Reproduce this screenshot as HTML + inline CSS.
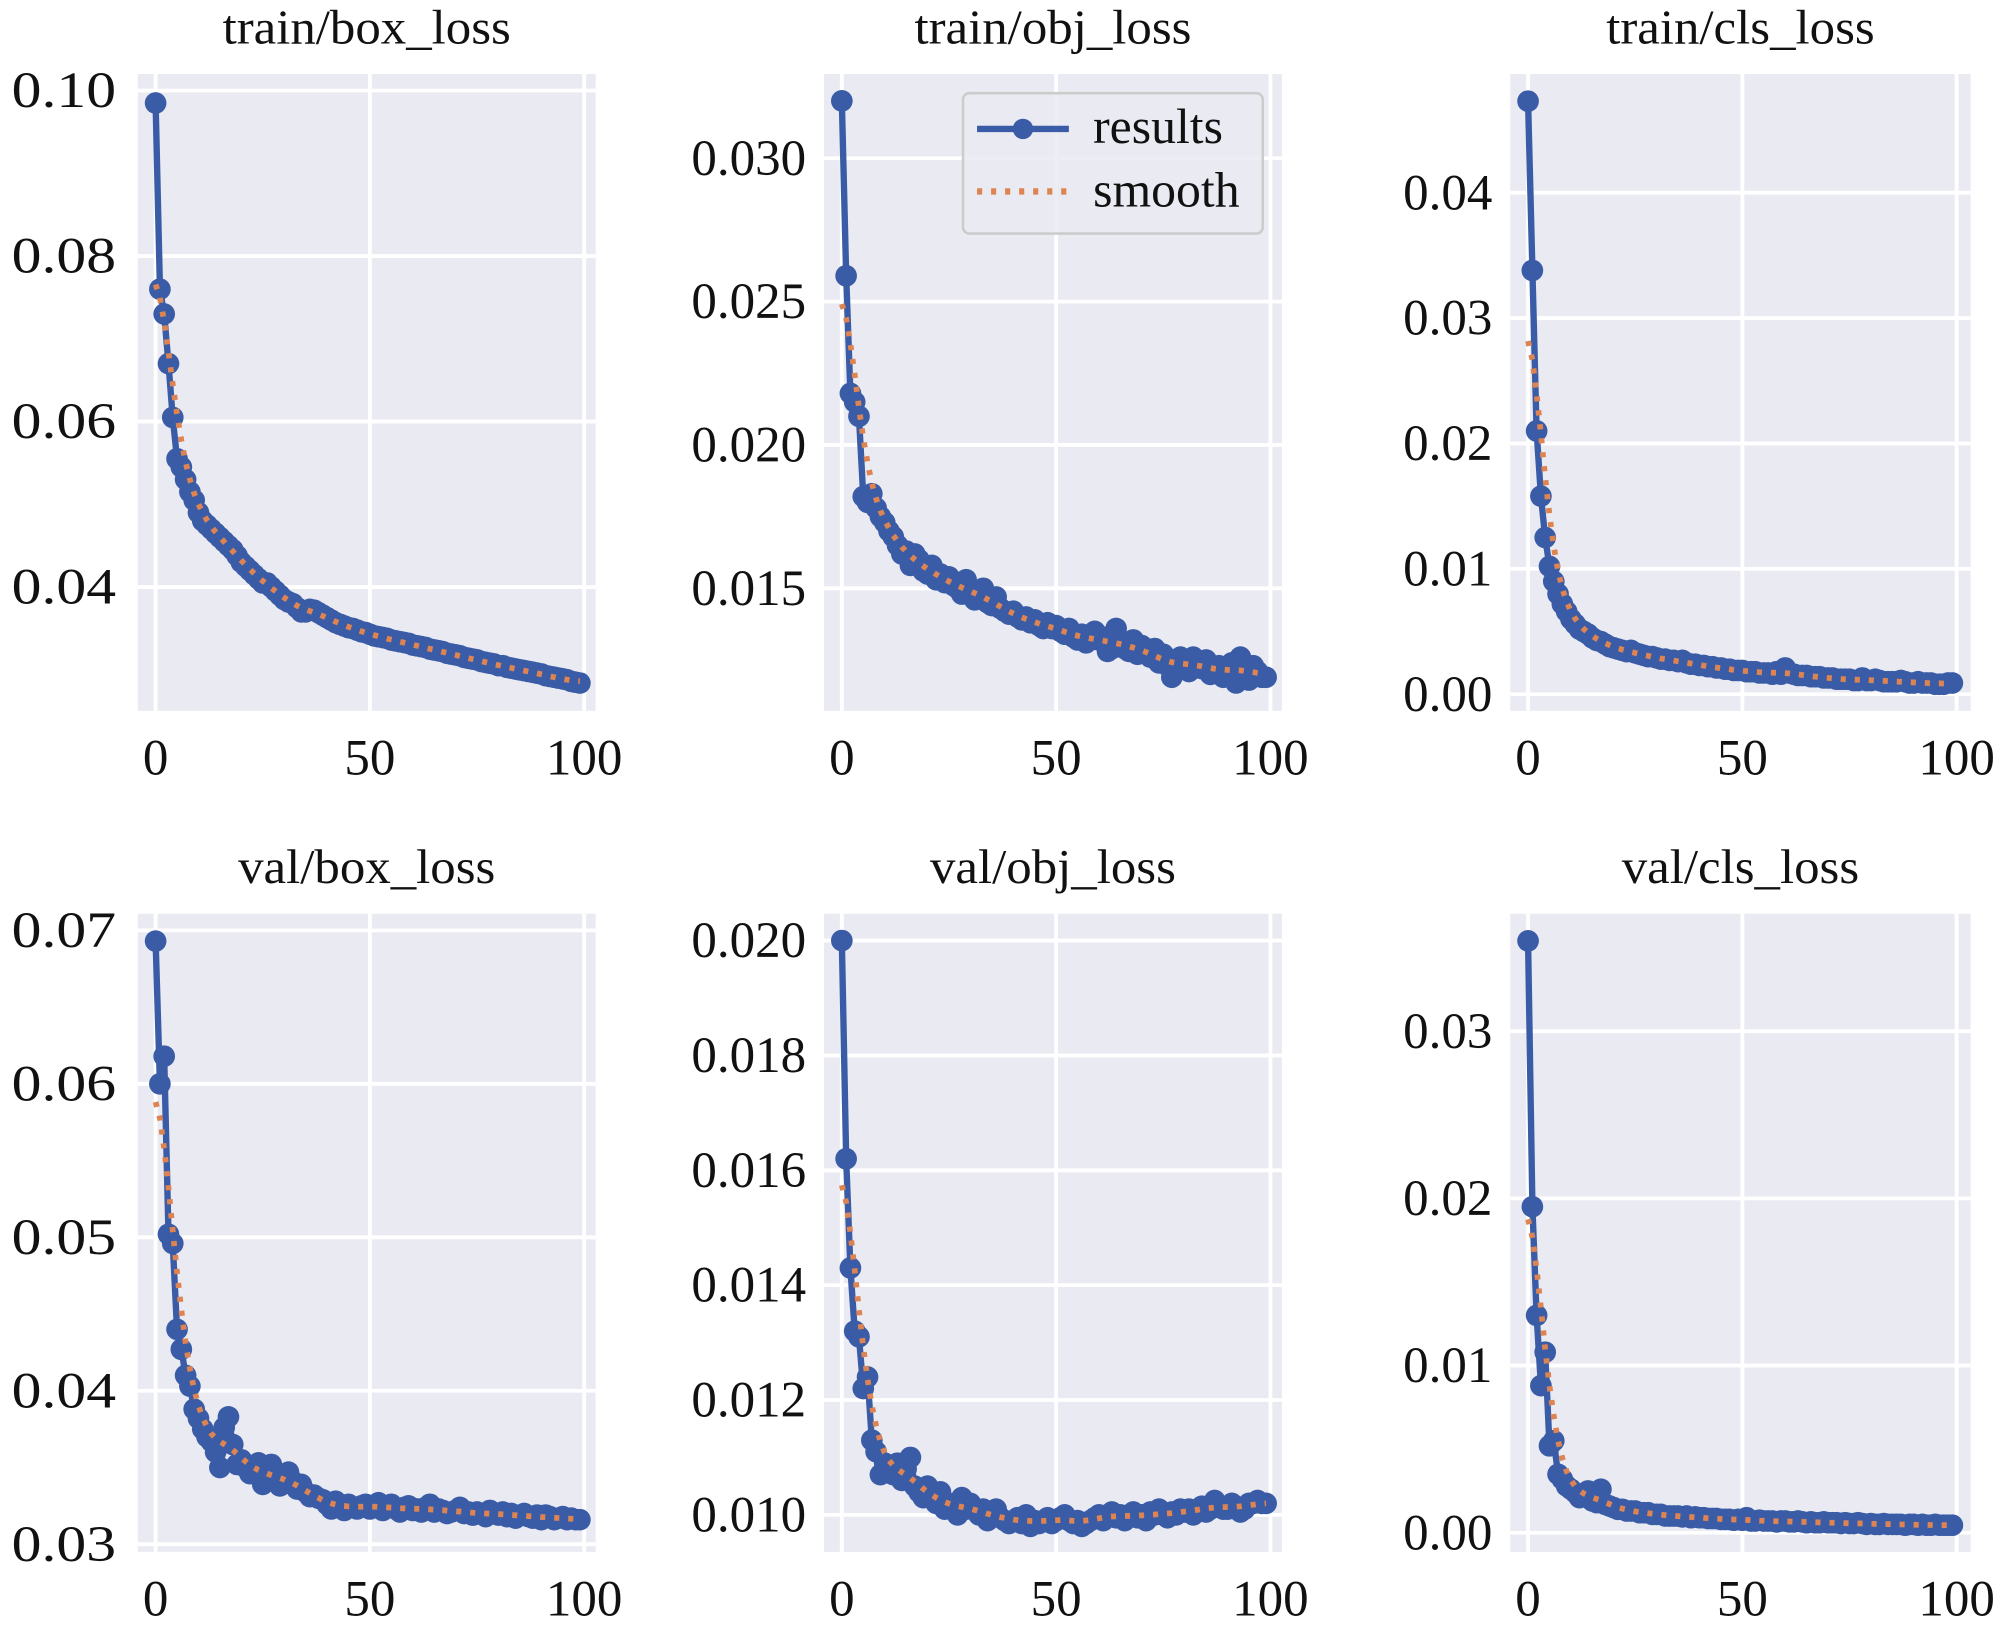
<!DOCTYPE html>
<html><head><meta charset="utf-8">
<style>html,body{margin:0;padding:0;background:#fff}svg{display:block}</style>
</head><body>
<svg id="fig" width="2000" height="1631" viewBox="0 0 1568 1278" preserveAspectRatio="none" xmlns="http://www.w3.org/2000/svg" font-family="'Liberation Serif', serif"></svg>
<script>
const epochs = Array.from({length:100},(_,i)=>i);
const xTicks = [0,50,100];
const titles = ["train/box_loss","train/obj_loss","train/cls_loss","val/box_loss","val/obj_loss","val/cls_loss"];
// values in units of 1e-3
const trainBox = [98.5,76,73,67,60.5,55.5,54.5,53,51.5,50.5, 49,48,47.5,47,46.5,46,45.5,45,44.5,43.8, 43,42.5,42,41.5,41,40.5,40.5,40,39.5,39, 38.5,38.2,38,37.5,37,37,37.3,37.2,36.9,36.6, 36.3,36,35.7,35.5,35.3,35.1,35,34.8,34.6,34.5, 34.3,34.1,34,33.9,33.8,33.6,33.5,33.4,33.3,33.2, 33,32.9,32.8,32.7,32.5,32.4,32.3,32.2,32,31.9, 31.8,31.7,31.5,31.4,31.3,31.2,31,30.9,30.8,30.7, 30.5,30.5,30.3,30.2,30.1,30,29.9,29.8,29.7,29.6, 29.5,29.3,29.2,29.1,29,28.9,28.8,28.6,28.5,28.4];
const trainObj = [32,25.9,21.8,21.5,21,18.2,18,18.3,17.8,17.5, 17.3,17,16.8,16.5,16.2,16.3,15.8,16.2,16,15.6, 15.5,15.8,15.3,15.5,15.2,15.4,15.1,15,14.8,15.3, 14.9,14.6,14.8,15,14.5,14.4,14.7,14.3,14.2,14.1, 14.2,14,13.9,14,13.8,13.9,13.7,13.6,13.8,13.6, 13.7,13.5,13.4,13.6,13.3,13.2,13.4,13.1,13.2,13.5, 13.2,13.3,12.8,12.9,13.6,13.1,12.9,12.8,13.2,12.7, 13,12.8,12.6,12.9,12.4,12.7,12.3,11.9,12.5,12.6, 12.4,12.1,12.6,12.3,12.2,12.5,12,12.1,12.3,11.9, 12.2,12.4,11.7,12.6,12.2,11.8,12.3,12.1,11.9,11.9];
const trainCls = [47.3,33.8,21,15.8,12.5,10.2,9,8,7.2,6.6, 6,5.6,5.2,5,4.8,4.5,4.3,4.2,4,3.8, 3.7,3.6,3.5,3.4,3.5,3.3,3.2,3.1,3,3, 2.9,2.8,2.8,2.7,2.7,2.6,2.7,2.5,2.4,2.4, 2.3,2.3,2.2,2.2,2.1,2.1,2,2,1.9,1.9, 1.9,1.8,1.8,1.8,1.7,1.7,1.7,1.6,1.8,1.6, 2.1,1.7,1.6,1.5,1.5,1.5,1.4,1.4,1.4,1.3, 1.3,1.3,1.2,1.2,1.2,1.2,1.1,1.1,1.3,1.1, 1.1,1.2,1.1,1,1,1,1,1.1,1,0.9, 0.9,1,0.9,0.9,0.9,0.8,0.8,0.8,0.9,0.9];
const valBox = [69.3,60,61.8,50.2,49.6,44,42.7,41,40.3,38.8, 38.2,37.5,37,36.7,36,35,37.6,38.3,36.5,35.2, 35.5,35,34.6,35.1,35.3,33.9,34.5,35.2,34.3,33.8, 34.3,34.7,34.1,33.6,33.9,33.4,33.1,33.2,33,32.9, 32.6,32.3,32.8,32.4,32.2,32.6,32.4,32.3,32.5,32.6, 32.3,32.5,32.7,32.2,32.4,32.6,32.3,32.1,32.4,32.5, 32.2,32.3,32.1,32.4,32.6,32.1,32.3,32.2,32,32.1, 32.2,32.4,32,32.1,31.9,32.1,32,31.8,32.2,32, 31.9,32.1,31.8,32,31.7,31.9,32,31.8,31.7,31.9, 31.6,31.9,31.8,31.6,31.7,31.8,31.6,31.7,31.6,31.6];
const valObj = [20,16.2,14.3,13.2,13.1,12.2,12.4,11.3,11.1,10.7, 10.9,10.8,10.7,10.9,10.6,10.8,11,10.5,10.4,10.3, 10.5,10.3,10.2,10.4,10.1,10.2,10.1,10,10.3,10.1, 10.2,10.1,10,10.1,9.9,10,10.1,9.95,9.9,9.85, 9.9,9.95,9.85,10,9.8,9.9,9.85,9.9,9.95,9.85, 9.9,9.95,10,9.9,9.85,9.9,9.8,9.85,9.9,9.95, 10,9.9,10,10.05,9.95,10,9.9,10,10.05,9.95, 10,9.9,10.05,10,10.1,10,9.95,10.05,10,10.1, 10.05,10.1,10,10.1,10.15,10.05,10.1,10.25,10.15,10.1, 10.1,10.2,10.15,10.05,10.1,10.2,10.2,10.25,10.2,10.2];
const valCls = [35.4,19.5,13,8.8,10.8,5.2,5.5,3.5,3.2,2.8, 2.6,2.4,2.1,2.2,2.5,1.9,1.8,2.6,1.7,1.6, 1.5,1.4,1.4,1.3,1.3,1.3,1.2,1.2,1.2,1.1, 1.1,1.1,1,1,1,1,0.95,1,0.9,0.95, 0.9,0.9,0.85,0.85,0.85,0.8,0.8,0.8,0.75,0.8, 0.75,0.9,0.7,0.7,0.75,0.7,0.7,0.7,0.65,0.7, 0.7,0.65,0.65,0.7,0.65,0.6,0.65,0.6,0.6,0.65, 0.6,0.6,0.6,0.55,0.6,0.55,0.55,0.6,0.55,0.5, 0.55,0.5,0.5,0.55,0.5,0.5,0.5,0.5,0.45,0.5, 0.5,0.45,0.5,0.45,0.45,0.5,0.45,0.45,0.45,0.45];
const yTicks1 = [0.04,0.06,0.08,0.10];
const yTicks2 = [0.015,0.020,0.025,0.030];
const yTicks3 = [0.00,0.01,0.02,0.03,0.04];
const yTicks4 = [0.03,0.04,0.05,0.06,0.07];
const yTicks5 = [0.010,0.012,0.014,0.016,0.018,0.020];
const yTicks6 = [0.00,0.01,0.02,0.03];
const tickDigits = [2,3,2,2,3,2];

const series = [trainBox,trainObj,trainCls,valBox,valObj,valCls];
const tickSets = [yTicks1,yTicks2,yTicks3,yTicks4,yTicks5,yTicks6];
const layouts = [
 [108,467,58,557,122,458, 0.04,460, 0.10,71],
 [646,1005,58,557,660,996, 0.015,461, 0.030,124],
 [1184,1545,58,557,1198,1534, 0.00,544, 0.04,151],
 [108,467,716,1216,122,458, 0.03,1210, 0.07,729],
 [646,1005,716,1216,660,996, 0.010,1187, 0.020,737],
 [1184,1545,716,1216,1198,1534, 0.00,1201, 0.03,808]
];
const tickStretch = [1.17,1,1,1.17,1,1];
const tickGap = [17,14,14,17,14,14];
const NS="http://www.w3.org/2000/svg";
const svg=document.getElementById('fig');
function mk(tag,attrs,parent){const e=document.createElementNS(NS,tag);for(const k in attrs)e.setAttribute(k,attrs[k]);(parent||svg).appendChild(e);return e;}
function gauss(y,s){const r=Math.round(4*s),w=[];let sum=0;for(let i=-r;i<=r;i++){const v=Math.exp(-i*i/(2*s*s));w.push(v);sum+=v;}
 const n=y.length,out=[];const idx=j=>{while(j<0||j>=n){if(j<0)j=-j-1;if(j>=n)j=2*n-j-1;}return j;};
 for(let i=0;i<n;i++){let a=0;for(let k=-r;k<=r;k++)a+=w[k+r]*y[idx(i+k)];out.push(a/sum);}return out;}
const BLUE="#3a5ca6", ORANGE="#dd8452";
const FS=40;
series.forEach((data,p)=>{
 const L=layouts[p];
 const g=mk('g',{});
 
 
 const xs=v=>L[4]+(v/100)*(L[5]-L[4]);
 const ys=v=>L[7]+(v-L[6])*(L[9]-L[7])/(L[8]-L[6]);
 const bg=mk('rect',{x:L[0],y:L[2],width:L[1]-L[0],height:L[3]-L[2],fill:'#eaeaf2'},g);
 
 
 const t=mk('text',{transform:`translate(${(L[0]+L[1])/2},${L[2]-24}) scale(1.05,1)`,'text-anchor':'middle','font-size':38,fill:'#111'},g);
 t.textContent=titles[p];
 
 
 tickSets[p].forEach(v=>{const y=ys(v);
  const gl=mk('line',{x1:L[0],x2:L[1],y1:y,y2:y,stroke:'#fff','stroke-width':3},g);
  
  
  const tl=mk('text',{transform:`translate(${L[0]-tickGap[p]},${y+13}) scale(${tickStretch[p]},1)`,'text-anchor':'end','font-size':FS,fill:'#111'},g);
  tl.textContent=v.toFixed(tickDigits[p]);
  
  
 });
 xTicks.forEach(v=>{const x=xs(v);
  const gl=mk('line',{x1:x,x2:x,y1:L[2],y2:L[3],stroke:'#fff','stroke-width':3},g);
  
  
  const tl=mk('text',{x:x,y:L[3]+50,'text-anchor':'middle','font-size':FS,fill:'#111'},g);
  tl.textContent=String(v);
  
  
 });
 const vals=data.map(v=>v/1000);
 const pts=vals.map((v,i)=>xs(epochs[i]).toFixed(1)+','+ys(v).toFixed(1)).join(' ');
 const line=mk('polyline',{points:pts,fill:'none',stroke:BLUE,'stroke-width':5,'stroke-linejoin':'round'},g);
 
 
 vals.forEach((v,i)=>{const c=mk('circle',{cx:xs(epochs[i]),cy:ys(v),r:8.5,fill:BLUE},g);
  
  });
 const sm=gauss(vals,3);
 const sp=sm.map((v,i)=>xs(epochs[i]).toFixed(1)+','+ys(v).toFixed(1)).join(' ');
 const sl=mk('polyline',{points:sp,fill:'none',stroke:ORANGE,'stroke-width':4.5,'stroke-dasharray':'4 7'},g);
 
 
});
const lg=mk('g',{});


mk('rect',{x:755,y:73,width:235,height:110,rx:5,fill:'#eaeaf2','fill-opacity':0.85,stroke:'#cccccc','stroke-width':2},lg);
mk('line',{x1:766,x2:838,y1:101,y2:101,stroke:BLUE,'stroke-width':5},lg);
mk('circle',{cx:802,cy:101,r:8,fill:BLUE},lg);
mk('line',{x1:766,x2:838,y1:150,y2:150,stroke:ORANGE,'stroke-width':5,'stroke-dasharray':'4 7'},lg);
const lt1=mk('text',{x:857,y:112,'font-size':39,fill:'#111'},lg);lt1.textContent='results';


const lt2=mk('text',{x:857,y:162,'font-size':39,fill:'#111'},lg);lt2.textContent='smooth';


</script>
</body></html>
